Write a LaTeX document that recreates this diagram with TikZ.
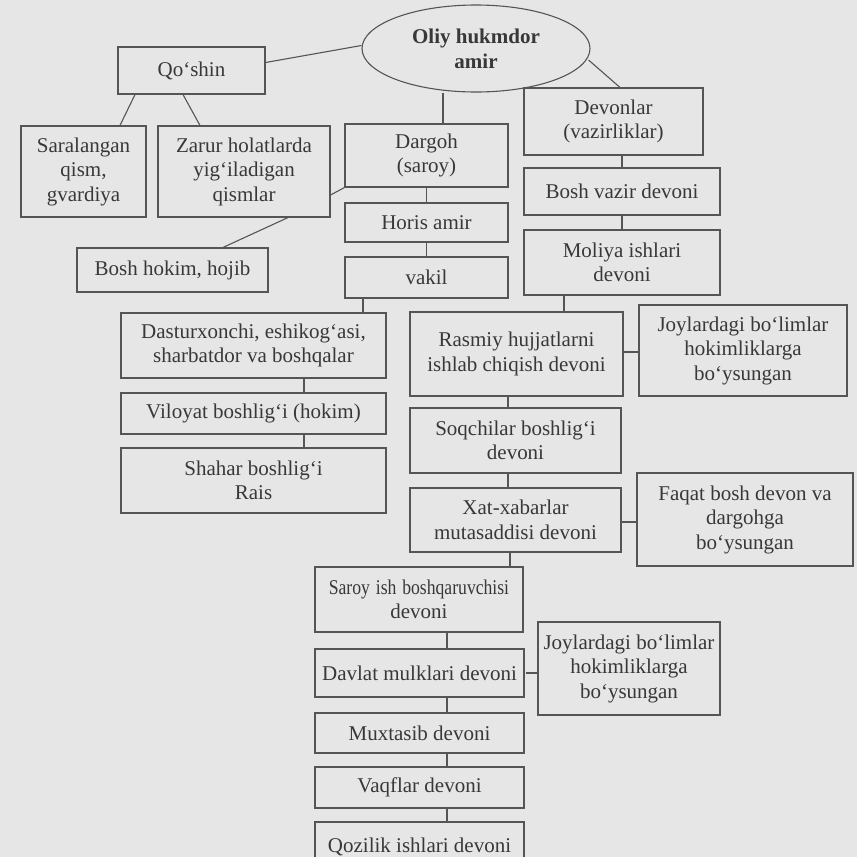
\documentclass[tikz,border=0pt]{standalone}
\usepackage{fontspec}
\setmainfont{Liberation Serif}
\usetikzlibrary{shapes.geometric}
\definecolor{bg}{HTML}{E6E6E6}
\definecolor{ink}{HTML}{383838}
\definecolor{edge}{HTML}{555555}
\tikzset{
  box/.style={draw=edge, line width=1.1pt, rectangle, align=center, text=ink, inner sep=2pt,
    font=\fontsize{21}{24.5}\selectfont},
  link/.style={draw=edge, line width=1.1pt},
}
\begin{document}
\begin{tikzpicture}[x=1pt,y=-1pt]
\useasboundingbox (0,0) rectangle (857,857);
\fill[bg] (0,0) rectangle (857,857);

\node[draw=edge, line width=1.1pt, ellipse, align=center, text=ink, inner sep=0pt,
  minimum width=228pt, minimum height=87pt, font=\fontsize{21}{25}\selectfont\bfseries]
  (boss) at (476,48.5) {Oliy hukmdor\\amir};

\node[box, minimum width=147pt, minimum height=47pt] (qoshin) at (191.5,70.5) {Qo‘shin};
\node[box, minimum width=125pt, minimum height=91pt] (sara) at (83.5,171.5) {Saralangan\\qism,\\gvardiya};
\node[box, minimum width=172pt, minimum height=91pt] (zarur) at (244,171.5) {Zarur holatlarda\\yig‘iladigan\\qismlar};
\node[box, minimum width=163pt, minimum height=63pt] (dargoh) at (426.5,155.5) {Dargoh\\(saroy)};
\node[box, minimum width=179pt, minimum height=67pt] (devon) at (613.5,121.5) {Devonlar\\(vazirliklar)};
\node[box, minimum width=196pt, minimum height=47pt] (vazir) at (622,191.5) {Bosh vazir devoni};
\node[box, minimum width=196pt, minimum height=65pt] (moliya) at (622,262.5) {Moliya ishlari\\devoni};
\node[box, minimum width=163pt, minimum height=39pt] (horis) at (426.5,222.5) {Horis amir};
\node[box, minimum width=163pt, minimum height=41pt] (vakil) at (426.5,277.5) {vakil};
\node[box, minimum width=191pt, minimum height=44pt] (hokim) at (172.5,270) {Bosh hokim, hojib};
\node[box, minimum width=265pt, minimum height=65pt] (dastur) at (253.5,345.5) {Dasturxonchi, eshikog‘asi,\\sharbatdor va boshqalar};
\node[box, minimum width=265pt, minimum height=41pt] (viloyat) at (253.5,413.5) {Viloyat boshlig‘i (hokim)};
\node[box, minimum width=265pt, minimum height=65pt] (shahar) at (253.5,480.5) {Shahar boshlig‘i\\Rais};
\node[box, minimum width=213pt, minimum height=84pt] (rasmiy) at (516.5,354) {Rasmiy hujjatlarni\\ishlab chiqish devoni};
\node[box, minimum width=208pt, minimum height=91pt] (joyA) at (743,350.5) {Joylardagi bo‘limlar\\hokimliklarga\\bo‘ysungan};
\node[box, minimum width=211pt, minimum height=65pt] (soqchi) at (515.5,440.5) {Soqchilar boshlig‘i\\devoni};
\node[box, minimum width=211pt, minimum height=64pt] (xat) at (515.5,520) {Xat-xabarlar\\mutasaddisi devoni};
\node[box, minimum width=216pt, minimum height=93pt] (faqat) at (745,519.5) {Faqat bosh devon va\\dargohga\\bo‘ysungan};
\node[box, minimum width=208pt, minimum height=65pt, text width=200pt] (saroy) at (419,599.5) {\scalebox{0.84}[1]{Saroy ish boshqaruvchisi}\\devoni};
\node[box, minimum width=209pt, minimum height=48pt] (davlat) at (419.5,673) {Davlat mulklari devoni};
\node[box, minimum width=182pt, minimum height=93pt] (joyB) at (629,668.5) {Joylardagi bo‘limlar\\hokimliklarga\\bo‘ysungan};
\node[box, minimum width=209pt, minimum height=40pt] (muxtasib) at (419.5,733) {Muxtasib devoni};
\node[box, minimum width=209pt, minimum height=41pt] (vaqf) at (419.5,787.5) {Vaqflar devoni};
\node[box, minimum width=209pt, minimum height=50pt] (qozi) at (419.5,847) {Qozilik ishlari devoni};

% connectors
\draw[link] ([yshift=8pt]qoshin.east) -- ([yshift=3pt]boss.west);
\draw[link] ([xshift=-33pt]boss.south) -- ([xshift=16.5pt]dargoh.north);
\draw[link] ([xshift=-2pt,yshift=-11.5pt]boss.east) -- ([xshift=6.5pt]devon.north);
\draw[link] ([xshift=-56.5pt]qoshin.south) -- ([xshift=36.5pt]sara.north);
\draw[link] ([xshift=-8.5pt]qoshin.south) -- ([xshift=-44pt]zarur.north);
\draw[link] ([yshift=-23.5pt]zarur.east) -- (dargoh.south west);
\draw[link] ([xshift=44pt]zarur.south) -- ([xshift=50.5pt]hokim.north);
\draw[link] (dargoh.south) -- (horis.north);
\draw[link] (horis.south) -- (vakil.north);
\draw[link] ([xshift=-63.5pt]vakil.south) coordinate (v1) -- (v1 |- dastur.north);
\draw[link] ([xshift=50.5pt]dastur.south) coordinate (d1) -- (d1 |- viloyat.north);
\draw[link] ([xshift=50.5pt]viloyat.south) coordinate (d2) -- (d2 |- shahar.north);
\draw[link] (vazir.north) -- (vazir.north |- devon.south);
\draw[link] (vazir.south) -- (moliya.north);
\draw[link] ([xshift=47.5pt]rasmiy.north) coordinate (r1) -- (r1 |- moliya.south);
\draw[link] ([yshift=2pt]rasmiy.east) coordinate (r2) -- (r2 -| joyA.west);
\draw[link] ([xshift=-7.5pt]soqchi.north) coordinate (s1) -- (s1 |- rasmiy.south);
\draw[link] ([xshift=-7.5pt]soqchi.south) coordinate (s2) -- (s2 |- xat.north);
\draw[link] ([yshift=-2pt]xat.east) coordinate (x1) -- (x1 -| faqat.west);
\draw[link] ([xshift=-5.5pt]xat.south) coordinate (x2) -- (x2 |- saroy.north);
\draw[link] ([xshift=28pt]saroy.south) coordinate (a1) -- (a1 |- davlat.north);
\draw[link] ([xshift=1pt]davlat.east) coordinate (b1) -- (b1 -| joyB.west);
\draw[link] ([xshift=27.5pt]davlat.south) coordinate (a2) -- (a2 |- muxtasib.north);
\draw[link] ([xshift=27.5pt]muxtasib.south) coordinate (a3) -- (a3 |- vaqf.north);
\draw[link] ([xshift=27.5pt]vaqf.south) coordinate (a4) -- (a4 |- qozi.north);
\end{tikzpicture}
\end{document}
